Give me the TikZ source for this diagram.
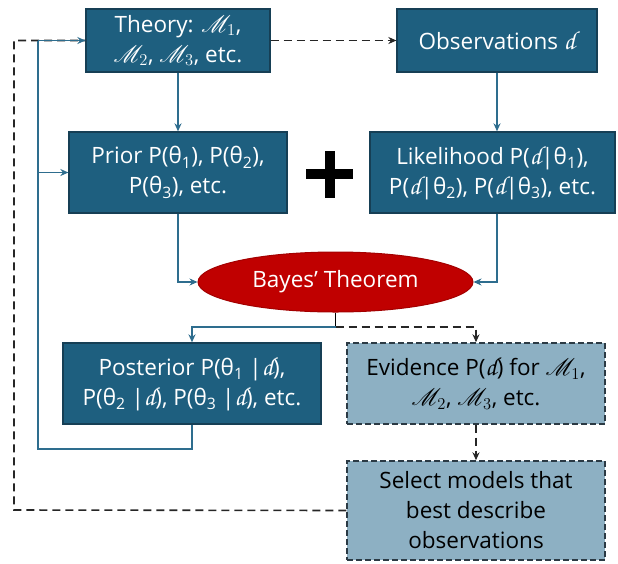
\documentclass[tikz,border=0pt]{standalone}
\usepackage[T1]{fontenc}
\usepackage{fontspec}
\usepackage{mathrsfs}
\setmainfont{Open Sans}
\usetikzlibrary{arrows.meta,shapes.geometric,calc}
\definecolor{boxfill}{HTML}{1E5F7F}
\definecolor{boxline}{HTML}{163F55}
\definecolor{lightfill}{HTML}{8DB0C3}
\definecolor{lightline}{HTML}{2B3A44}
\definecolor{conn}{HTML}{2E6D8E}
\definecolor{bred}{HTML}{C00000}
\newcommand{\scM}[1]{\scalebox{1.15}{$\mathscr{M}_{#1}$}}
\newcommand{\scd}{{\fontencoding{T1}\fontfamily{pzc}\fontseries{mb}\fontshape{it}\fontsize{26}{30}\selectfont d}}
\begin{document}
\begin{tikzpicture}[x=1pt,y=-1pt,
  every node/.style={font=\fontsize{22.5}{30}\selectfont, align=center, inner sep=0pt},
  darkbox/.style={draw=boxline, line width=1.3pt, fill=boxfill, text=white, rectangle},
  lightbox/.style={draw=lightline, line width=1.4pt, dash pattern=on 6pt off 3pt, fill=lightfill, text=black, rectangle},
  bluearrow/.style={draw=conn, line width=1.6pt, -{Stealth[length=8pt,width=7pt]}},
  blueline/.style={draw=conn, line width=1.6pt},
  dasharrow/.style={draw=black!85, line width=1.6pt, dash pattern=on 8pt off 5pt, -{Stealth[length=8pt,width=7pt]}},
  dashline/.style={draw=black!85, line width=1.6pt, dash pattern=on 8pt off 5pt}
]
\useasboundingbox (0,0) rectangle (618,563);

\coordinate (dl) at (14,510);
\coordinate (dt) at (14,40.5);
\coordinate (ll) at (38,449);
\coordinate (lt) at (38,40.5);

\node[darkbox, minimum width=184pt, minimum height=63pt] (theory) at (178,40.5) {Theory: \scM{1},\\ \scM{2}, \scM{3}, etc.};
\node[darkbox, minimum width=200pt, minimum height=63pt] (obs) at (497,40.5) {Observations \scd};
\node[darkbox, minimum width=218pt, minimum height=81pt] (prior) at (178,172.5) {Prior P(θ\textsubscript{1}), P(θ\textsubscript{2}),\\ P(θ\textsubscript{3}), etc.};
\node[darkbox, minimum width=245pt, minimum height=81pt] (lik) at (492.5,172.5) {Likelihood P(\scd|θ\textsubscript{1}),\\ P(\scd|θ\textsubscript{2}), P(\scd|θ\textsubscript{3}), etc.};
\node[ellipse, draw=bred!85!black, line width=1pt, fill=bred, text=white, minimum width=275pt, minimum height=60pt] (bayes) at (335.5,282) {Bayes’ Theorem};
\node[darkbox, minimum width=258pt, minimum height=81pt] (post) at (192,383.5) {Posterior P(θ\textsubscript{1} |\scd),\\ P(θ\textsubscript{2} |\scd), P(θ\textsubscript{3} |\scd), etc.};
\node[lightbox, minimum width=258pt, minimum height=81pt] (evid) at (476,383.5) {Evidence P(\scd) for \scM{1},\\ \scM{2}, \scM{3}, etc.};
\node[lightbox, minimum width=258pt, minimum height=99pt] (sel) at (476,510.5) {Select models that\\ best describe\\ observations};

% plus sign
\fill (306,169) rectangle (353,179);
\fill (325,151) rectangle (335,198);

% dashed loop from Select back to Observations
\draw[dashline] (sel.west) -- (dl) -- (dt) -- (theory.west);
\draw[dasharrow] (theory.east) -- (obs.west);

% main flow
\draw[bluearrow] (theory.south) -- (prior.north);
\draw[bluearrow] (obs.south) -- (obs.south |- lik.north);
\draw[bluearrow] (prior.south) |- (bayes.west);
\draw[bluearrow] (lik.south -| obs.south) |- (bayes.east);

\coordinate (j) at (bayes.south |- 0,327);
\draw[black, line width=1.6pt] (bayes.south) -- (j);
\draw[bluearrow] (j) -| (post.north);
\draw[dasharrow] (j) -| (evid.north);
\draw[dasharrow] (evid.south) -- (sel.north);

% posterior loop back
\draw[blueline] (post.south) |- (ll) -- (lt);
\draw[bluearrow] (lt) -- (theory.west);
\draw[bluearrow] (38,172.5) -- (prior.west);
\end{tikzpicture}
\end{document}
